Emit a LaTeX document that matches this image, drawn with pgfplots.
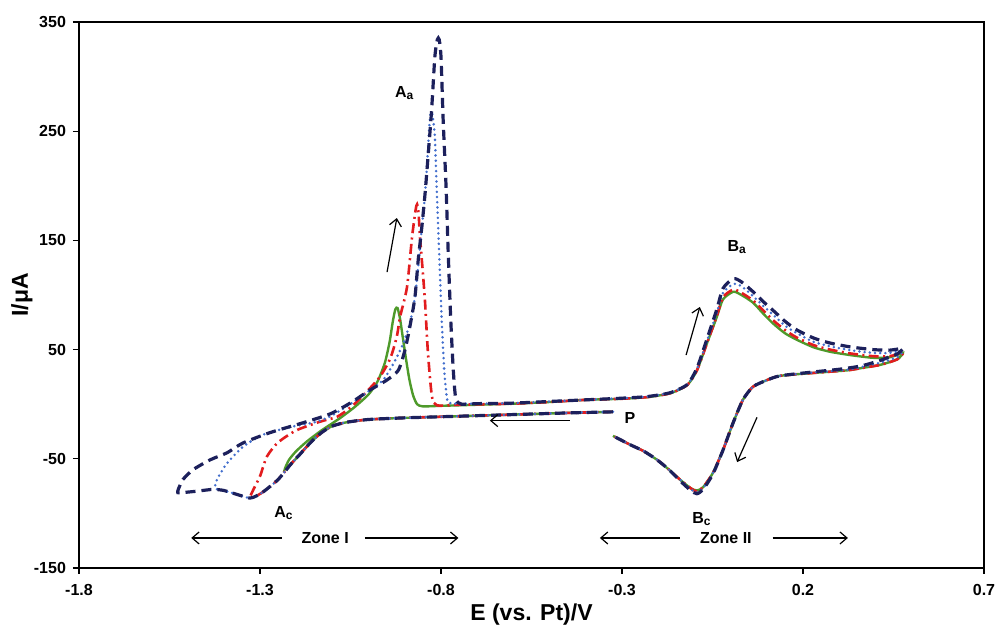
\documentclass[border=0pt]{standalone}
\usepackage{pgfplots}
\pgfplotsset{compat=1.18}
\usepackage{fontspec}
\setmainfont{Liberation Sans}
\usetikzlibrary{arrows.meta}

\definecolor{cvnavy}{RGB}{28,32,92}
\definecolor{cvblue}{RGB}{66,110,205}
\definecolor{cvred}{RGB}{226,28,30}
\definecolor{cvgreen}{RGB}{78,154,42}

\begin{document}
\begin{tikzpicture}
\path[use as bounding box] (-39.5pt,-29pt) rectangle (459pt,284pt);
\begin{axis}[
  at={(0,0)}, anchor=south west,
  scale only axis, width=452.5pt, height=273pt,
  xmin=-1.8, xmax=0.7, ymin=-150, ymax=350,
  xtick={-1.8,-1.3,-0.8,-0.3,0.2,0.7},
  ytick={-150,-50,50,150,250,350},
  xticklabels={-1.8,-1.3,-0.8,-0.3,0.2,0.7},
  yticklabels={-150,-50,50,150,250,350},
  tick align=outside, major tick length=3pt,
  xtick pos=bottom, ytick pos=left,
  axis line style={black, line width=0.6pt},
  tick style={black, line width=0.6pt},
  ticklabel style={font=\bfseries\fontsize{8}{9.5}\selectfont},
  xticklabel style={yshift=-1.5pt},
  xlabel={E (vs. Pt)/V}, ylabel={I/μA},
  label style={font=\bfseries\fontsize{11.5}{13}\selectfont},
  xlabel style={at={(axis description cs:0.5,0)}, anchor=center, yshift=-23.5pt},
  ylabel style={at={(axis description cs:0,0.5)}, anchor=center, yshift=28.5pt},
  clip=false,
]

% smallest scan window (green)
\addplot[cvgreen, line width=1.2pt, smooth, tension=0.4] coordinates {
(-0.325,-7) (-0.45,-8) (-0.60,-9.5) (-0.75,-11) (-0.90,-12.5) (-1.00,-14) (-1.06,-16.5)
(-1.10,-20) (-1.13,-26) (-1.16,-35) (-1.19,-46) (-1.215,-55) (-1.232,-60)
(-1.22,-51) (-1.20,-43) (-1.17,-34) (-1.13,-24) (-1.08,-13) (-1.04,-3) (-1.00,9)
(-0.975,21) (-0.955,38) (-0.942,57) (-0.933,76) (-0.926,87) (-0.920,88) (-0.913,78)
(-0.905,60) (-0.896,40) (-0.887,22) (-0.877,8) (-0.866,0) (-0.85,-2) (-0.80,-1.5)
(-0.70,-0.5) (-0.60,0.5) (-0.50,2) (-0.40,4) (-0.30,5) (-0.23,6.5) (-0.167,10)
(-0.12,17.5) (-0.093,31) (-0.065,56) (-0.038,80) (-0.021,96) (0.0075,103) (0.03,100)
(0.062,93) (0.09,83) (0.117,74) (0.15,65) (0.183,59) (0.23,52) (0.275,48) (0.33,45)
(0.393,42.5) (0.44,43) (0.476,47)
(0.46,41) (0.413,36) (0.36,33) (0.322,31) (0.228,28.6) (0.137,26) (0.10,22) (0.062,16)
(0.034,4) (0.007,-17) (-0.021,-42) (-0.049,-63) (-0.076,-76) (-0.093,-79) (-0.11,-77)
(-0.14,-69) (-0.17,-60) (-0.203,-51) (-0.24,-43) (-0.278,-37) (-0.325,-29)
};

% red dash-dot
\addplot[cvred, line width=1.3pt, smooth, tension=0.4,
  dash pattern=on 5pt off 2.2pt on 1pt off 2.2pt] coordinates {
(-0.325,-7) (-0.45,-8) (-0.60,-9.5) (-0.75,-11) (-0.90,-12.5) (-1.00,-14) (-1.06,-16.5)
(-1.10,-20) (-1.13,-26) (-1.16,-35) (-1.19,-46) (-1.215,-55) (-1.25,-69) (-1.29,-80)
(-1.31,-84) (-1.328,-86)
(-1.318,-78) (-1.30,-66) (-1.281,-48) (-1.25,-35) (-1.20,-24) (-1.134,-16) (-1.087,-11.5)
(-1.05,-3) (-1.015,8) (-0.969,25) (-0.940,42) (-0.922,62) (-0.913,80) (-0.894,107)
(-0.880,153) (-0.870,178) (-0.866,183) (-0.862,175) (-0.858,153) (-0.850,120)
(-0.844,93) (-0.836,47) (-0.825,7) (-0.811,-1) (-0.75,-0.5) (-0.60,0.5) (-0.50,2)
(-0.40,4) (-0.30,5) (-0.23,6.5) (-0.167,10) (-0.12,17.5) (-0.093,31) (-0.065,56)
(-0.038,81) (-0.021,98) (0.0075,105) (0.03,102) (0.062,95) (0.09,86) (0.117,77)
(0.15,68) (0.183,61) (0.23,54) (0.275,50) (0.33,46.5) (0.393,44) (0.44,44) (0.476,47)
(0.46,41) (0.413,36) (0.36,33) (0.322,31) (0.228,28.6) (0.137,26) (0.10,22) (0.062,16)
(0.034,4) (0.007,-17) (-0.021,-42) (-0.049,-63) (-0.076,-76) (-0.093,-80) (-0.11,-77)
(-0.14,-69) (-0.17,-60) (-0.203,-51) (-0.24,-43) (-0.278,-37) (-0.325,-29)
};

% blue dotted
\addplot[cvblue, line width=1.4pt, smooth, tension=0.4, line cap=round,
  dash pattern=on 0pt off 2.6pt] coordinates {
(-0.325,-7) (-0.45,-8) (-0.60,-9.5) (-0.75,-11) (-0.90,-12.5) (-1.00,-14) (-1.06,-16.5)
(-1.10,-20) (-1.13,-26) (-1.16,-35) (-1.19,-46) (-1.215,-55) (-1.25,-69) (-1.29,-80)
(-1.31,-84) (-1.328,-86) (-1.36,-83) (-1.40,-79) (-1.424,-77)
(-1.419,-69) (-1.405,-61) (-1.391,-54) (-1.347,-39) (-1.292,-28) (-1.217,-21)
(-1.142,-16) (-1.10,-10) (-1.051,0) (-1.00,12) (-0.96,22) (-0.93,38) (-0.905,55)
(-0.886,74) (-0.872,98) (-0.862,130) (-0.853,162) (-0.844,193) (-0.838,222)
(-0.833,250) (-0.829,266) (-0.824,266) (-0.817,245) (-0.812,199) (-0.805,138)
(-0.798,77) (-0.791,31) (-0.784,7) (-0.775,1) (-0.70,0.5) (-0.60,1) (-0.50,2.5)
(-0.40,4) (-0.30,5.5) (-0.23,7) (-0.167,10.5) (-0.12,18) (-0.093,32) (-0.065,58)
(-0.038,84) (-0.021,102) (0.0075,110) (0.03,108) (0.062,99) (0.09,90) (0.117,82)
(0.15,72) (0.183,65) (0.23,57) (0.275,53) (0.33,49.5) (0.393,47) (0.44,47) (0.476,49)
(0.46,43) (0.413,38) (0.36,34) (0.322,31.5) (0.228,29) (0.137,26) (0.10,22) (0.062,16)
(0.034,4) (0.007,-17) (-0.021,-42) (-0.049,-63) (-0.076,-77) (-0.093,-81) (-0.11,-78)
(-0.14,-69) (-0.17,-60) (-0.203,-51) (-0.24,-43) (-0.278,-37) (-0.325,-29)
};

% navy dashed (widest window)
\addplot[cvnavy, line width=1.6pt, smooth, tension=0.4,
  dash pattern=on 5pt off 3pt] coordinates {
(-0.325,-7) (-0.45,-8) (-0.60,-9.5) (-0.75,-11) (-0.90,-12.5) (-1.00,-14) (-1.06,-16.5)
(-1.10,-20) (-1.13,-26) (-1.16,-35) (-1.19,-46) (-1.215,-55) (-1.25,-69) (-1.29,-80)
(-1.31,-84) (-1.328,-86) (-1.36,-83) (-1.40,-79) (-1.43,-78) (-1.47,-79.5) (-1.50,-80.5)
(-1.527,-81)
(-1.522,-75) (-1.513,-69) (-1.485,-60) (-1.438,-51) (-1.391,-44.5) (-1.347,-35.5)
(-1.272,-26) (-1.181,-17) (-1.107,-9) (-1.051,1) (-0.996,13) (-0.950,22) (-0.918,31)
(-0.900,49) (-0.886,71) (-0.872,98) (-0.863,132) (-0.853,162) (-0.844,193)
(-0.835,230) (-0.826,269) (-0.817,318) (-0.810,334) (-0.805,334) (-0.800,318)
(-0.794,260) (-0.786,199) (-0.780,138) (-0.773,77) (-0.766,31) (-0.759,5) (-0.743,0)
(-0.70,0.5) (-0.60,1) (-0.50,2.5) (-0.40,4) (-0.30,5.5) (-0.23,7) (-0.167,10.5)
(-0.12,18) (-0.093,33) (-0.065,60) (-0.038,87) (-0.021,106) (0.0075,115) (0.03,112)
(0.062,103) (0.09,94) (0.117,86) (0.15,76) (0.183,68) (0.23,60.5) (0.275,56) (0.33,52.5)
(0.393,50) (0.44,49.5) (0.476,51)
(0.46,46) (0.44,43.5) (0.413,40) (0.36,35) (0.30,32) (0.228,29.5) (0.137,26) (0.10,22)
(0.062,16) (0.034,4) (0.007,-17) (-0.021,-42) (-0.049,-64) (-0.076,-78) (-0.093,-82)
(-0.11,-79) (-0.14,-70) (-0.17,-60) (-0.203,-51) (-0.24,-43) (-0.278,-37) (-0.325,-29)
};

% annotations
\begin{scope}[every node/.style={font=\bfseries\fontsize{8}{9}\selectfont, inner sep=0pt}]
\node at (axis cs:-0.900,285) {A\textsubscript{a}};
\node at (axis cs:0.018,144) {B\textsubscript{a}};
\node at (axis cs:-1.234,-100) {A\textsubscript{c}};
\node at (axis cs:-0.079,-105) {B\textsubscript{c}};
\node at (axis cs:-0.278,-12.5) {P};
\node at (axis cs:-1.120,-122.5) {Zone I};
\node at (axis cs:-0.013,-122.5) {Zone II};
\end{scope}
\begin{scope}[line width=0.6pt, -{Straight Barb[length=3.5pt,width=6pt]}]
\draw (axis cs:-0.949,121) -- (axis cs:-0.922,170.5);
\draw (axis cs:-0.123,45) -- (axis cs:-0.085,89);
\draw (axis cs:-0.444,-15) -- (axis cs:-0.665,-15);
\draw (axis cs:0.073,-12) -- (axis cs:0.018,-53);
\draw (axis cs:-1.240,-122.5) -- (axis cs:-1.490,-122.5);
\draw (axis cs:-1.010,-122.5) -- (axis cs:-0.752,-122.5);
\draw (axis cs:-0.140,-122.5) -- (axis cs:-0.361,-122.5);
\draw (axis cs:0.116,-122.5) -- (axis cs:0.324,-122.5);
\end{scope}
\end{axis}
\end{tikzpicture}
\end{document}
